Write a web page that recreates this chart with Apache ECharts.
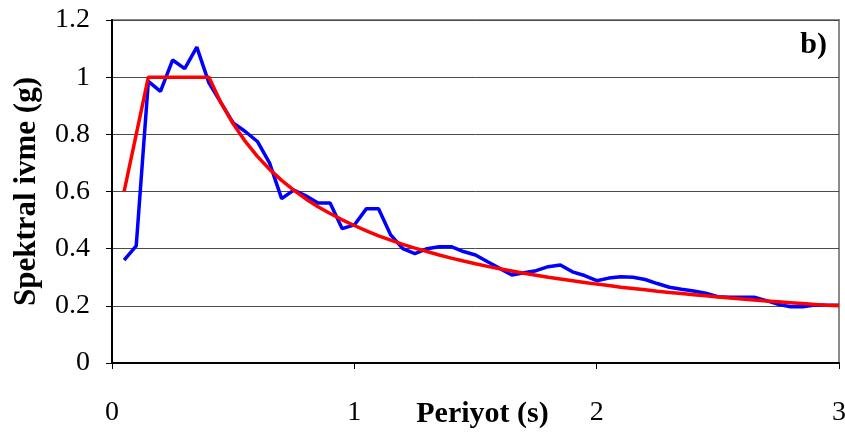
<!DOCTYPE html>
<html>
<head>
<meta charset="utf-8">
<script src="https://cdn.jsdelivr.net/npm/echarts@6/dist/echarts.min.js"></script>
<style>
  html, body { margin: 0; padding: 0; background: #fff; }
  #chart { width: 845px; height: 433px; }
</style>
</head>
<body>
<div id="chart"></div>
<script>
// Period (s) sampled every 0.05 s
const periods = [0.05,0.10,0.15,0.20,0.25,0.30,0.35,0.40,0.45,0.50,0.55,0.60,0.65,0.70,0.75,0.80,0.85,0.90,0.95,1.00,
  1.05,1.10,1.15,1.20,1.25,1.30,1.35,1.40,1.45,1.50,1.55,1.60,1.65,1.70,1.75,1.80,1.85,1.90,1.95,2.00,
  2.05,2.10,2.15,2.20,2.25,2.30,2.35,2.40,2.45,2.50,2.55,2.60,2.65,2.70,2.75,2.80,2.85,2.90,2.95,3.00];

// Spectral acceleration of the record (g)
const recordSa = [0.36,0.41,0.985,0.95,1.06,1.03,1.105,0.98,0.91,0.84,0.81,0.775,0.70,0.575,0.605,0.585,0.56,0.56,0.47,0.483,
  0.54,0.54,0.448,0.40,0.383,0.40,0.407,0.407,0.39,0.378,0.354,0.331,0.308,0.316,0.323,0.337,0.343,0.319,0.306,0.288,
  0.297,0.302,0.30,0.292,0.278,0.265,0.258,0.252,0.244,0.232,0.23,0.23,0.23,0.218,0.205,0.197,0.197,0.203,0.202,0.202];

// Design spectrum (g)
const designSa = [0.60,0.80,1.00,1.00,1.00,1.00,1.00,1.00,0.910,0.837,0.775,0.723,0.678,0.639,0.605,0.574,0.547,0.523,0.501,0.481,
  0.462,0.445,0.430,0.415,0.402,0.390,0.378,0.367,0.357,0.347,0.338,0.330,0.322,0.314,0.307,0.300,0.294,0.288,0.282,0.276,
  0.271,0.265,0.261,0.256,0.251,0.247,0.243,0.239,0.235,0.231,0.227,0.224,0.220,0.217,0.214,0.211,0.208,0.205,0.202,0.200];

const yTicks = [0, 0.2, 0.4, 0.6, 0.8, 1, 1.2];
const xTicks = [0, 1, 2, 3];

const font = '"Liberation Serif", "Times New Roman", serif';

const chart = echarts.init(document.getElementById('chart'), null, { renderer: 'canvas' });

chart.setOption({
  animation: false,
  backgroundColor: '#ffffff',
  grid: {
    left: 112, right: 6, top: 20, bottom: 70,
    containLabel: false, outerBoundsMode: 'none',
    show: true, borderColor: '#8a8a8a', borderWidth: 2, backgroundColor: 'transparent'
  },
  xAxis: {
    type: 'value', min: xTicks[0], max: xTicks[xTicks.length - 1], interval: 1,
    name: 'Periyot (s)', nameLocation: 'middle', nameGap: 36, nameMoveOverlap: false,
    nameTextStyle: { fontFamily: font, fontWeight: 'bold', fontSize: 30, color: '#000', padding: [0, 0, 0, 14] },
    axisLine: { show: true, onZero: false, lineStyle: { color: '#000', width: 2 } },
    axisTick: { show: true, inside: false, length: 6, lineStyle: { color: '#000', width: 1 } },
    axisLabel: { fontFamily: font, fontSize: 28, color: '#000', margin: 36 },
    splitLine: { show: false }
  },
  yAxis: {
    type: 'value', min: yTicks[0], max: yTicks[yTicks.length - 1], interval: 0.2,
    name: 'Spektral ivme (g)', nameLocation: 'middle', nameGap: 70, nameRotate: 90, nameMoveOverlap: false,
    nameTextStyle: { fontFamily: font, fontWeight: 'bold', fontSize: 31, color: '#000' },
    axisLine: { show: true, onZero: false, lineStyle: { color: '#000', width: 2 } },
    axisTick: { show: true, inside: false, length: 6, lineStyle: { color: '#000', width: 1 } },
    axisLabel: { fontFamily: font, fontSize: 28, color: '#000', margin: 22,
      formatter: v => String(Math.round(v * 10) / 10) },
    splitLine: { show: true, lineStyle: { color: '#4a4a4a', width: 1 } }
  },
  graphic: [{
    type: 'text', right: 18, top: 30,
    style: { text: 'b)', fontFamily: font, fontWeight: 'bold', fontSize: 30, fill: '#000' }
  }],
  series: [
    {
      name: 'Kayıt', type: 'line', showSymbol: false, z: 2,
      data: periods.map((t, i) => [t, recordSa[i]]),
      lineStyle: { color: '#0000ff', width: 3.5 }
    },
    {
      name: 'Tasarım', type: 'line', showSymbol: false, z: 3,
      data: periods.map((t, i) => [t, designSa[i]]),
      lineStyle: { color: '#ff0000', width: 3.5 }
    }
  ]
});
</script>
</body>
</html>
